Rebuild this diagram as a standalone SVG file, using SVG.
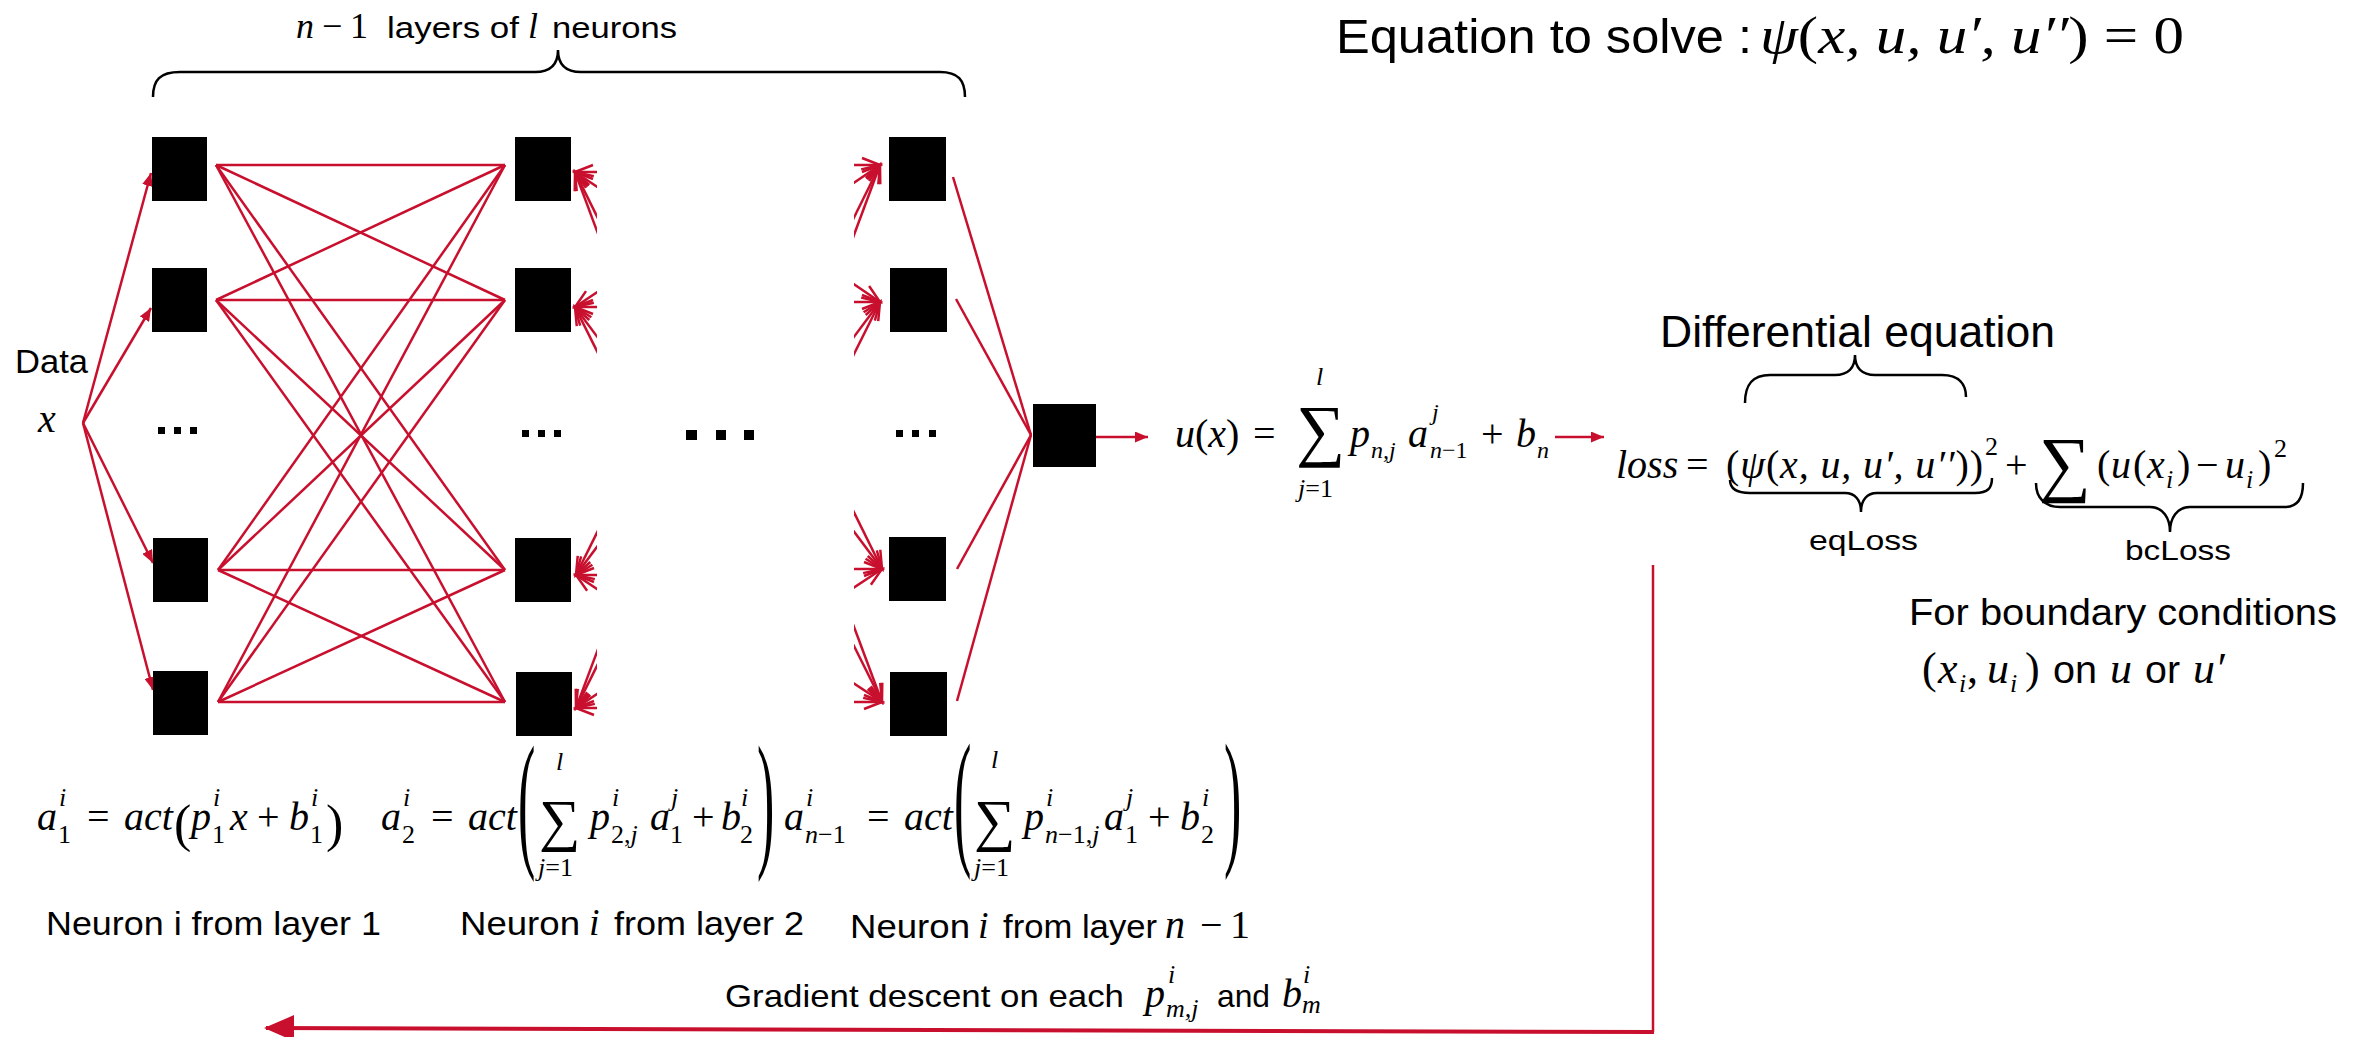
<svg xmlns="http://www.w3.org/2000/svg" width="2371" height="1037" viewBox="0 0 2371 1037">
<style>
.r{stroke:#c8102e;stroke-width:2.5;fill:none}
.rt{stroke:#c8102e;stroke-width:4;fill:none}
.k{stroke:#000;stroke-width:2.5;fill:none}
.nd{fill:#000}
.s{font-family:"Liberation Sans",Arial,sans-serif;fill:#000}
.m{font-family:"Liberation Serif","DejaVu Serif",serif;font-style:italic;fill:#000}
.u{font-style:normal}
</style>
<defs>
<marker id="ah" markerUnits="userSpaceOnUse" markerWidth="13" markerHeight="11" refX="13" refY="5.5" orient="auto"><path d="M0,0 L13,5.5 L0,11 z" fill="#c8102e"/></marker>
<marker id="big" markerUnits="userSpaceOnUse" markerWidth="30" markerHeight="26" refX="28" refY="13" orient="auto"><path d="M0,0 L30,13 L0,26 z" fill="#c8102e"/></marker>
<marker id="oa" markerUnits="userSpaceOnUse" markerWidth="24" markerHeight="20" refX="21" refY="10" orient="auto-start-reverse"><path d="M3,3 L21,10 L3,17" fill="none" stroke="#c8102e" stroke-width="2.5"/></marker>
<clipPath id="c2"><rect x="569" y="100" width="28" height="660"/></clipPath>
<clipPath id="c3"><rect x="854" y="100" width="32" height="660"/></clipPath>
</defs>
<rect width="2371" height="1037" fill="#fff"/>

<g id="connectors">
<g id="inputs" class="r">
<line x1="83" y1="423" x2="151" y2="173" marker-end="url(#ah)"/>
<line x1="83" y1="423" x2="151" y2="308" marker-end="url(#ah)"/>
<line x1="83" y1="423" x2="153" y2="563" marker-end="url(#ah)"/>
<line x1="83" y1="423" x2="153" y2="690" marker-end="url(#ah)"/>
</g>
<g id="l1-l2" class="r">
<line x1="216" y1="165" x2="505" y2="165"/><line x1="216" y1="165" x2="505" y2="300"/><line x1="216" y1="165" x2="505" y2="570"/><line x1="216" y1="165" x2="505" y2="702"/>
<line x1="216" y1="300" x2="505" y2="165"/><line x1="216" y1="300" x2="505" y2="300"/><line x1="216" y1="300" x2="505" y2="570"/><line x1="216" y1="300" x2="505" y2="702"/>
<line x1="218" y1="570" x2="505" y2="165"/><line x1="218" y1="570" x2="505" y2="300"/><line x1="218" y1="570" x2="505" y2="570"/><line x1="218" y1="570" x2="505" y2="702"/>
<line x1="218" y1="702" x2="505" y2="165"/><line x1="218" y1="702" x2="505" y2="300"/><line x1="218" y1="702" x2="505" y2="570"/><line x1="218" y1="702" x2="505" y2="702"/>
</g>
<g id="l2-out-fragments" class="r" clip-path="url(#c2)">
<line x1="575" y1="172" x2="775" y2="172" marker-start="url(#oa)"/><line x1="575" y1="172" x2="775" y2="307" marker-start="url(#oa)"/><line x1="575" y1="172" x2="775" y2="575" marker-start="url(#oa)"/><line x1="575" y1="172" x2="775" y2="708" marker-start="url(#oa)"/>
<line x1="575" y1="307" x2="775" y2="172" marker-start="url(#oa)"/><line x1="575" y1="307" x2="775" y2="307" marker-start="url(#oa)"/><line x1="575" y1="307" x2="775" y2="575" marker-start="url(#oa)"/><line x1="575" y1="307" x2="775" y2="708" marker-start="url(#oa)"/>
<line x1="576" y1="575" x2="776" y2="172" marker-start="url(#oa)"/><line x1="576" y1="575" x2="776" y2="307" marker-start="url(#oa)"/><line x1="576" y1="575" x2="776" y2="575" marker-start="url(#oa)"/><line x1="576" y1="575" x2="776" y2="708" marker-start="url(#oa)"/>
<line x1="576" y1="708" x2="776" y2="172" marker-start="url(#oa)"/><line x1="576" y1="708" x2="776" y2="307" marker-start="url(#oa)"/><line x1="576" y1="708" x2="776" y2="575" marker-start="url(#oa)"/><line x1="576" y1="708" x2="776" y2="708" marker-start="url(#oa)"/>
</g>
<g id="in-l3-fragments" class="r" clip-path="url(#c3)">
<line x1="680" y1="165" x2="880" y2="165" marker-end="url(#oa)"/><line x1="680" y1="302" x2="880" y2="165" marker-end="url(#oa)"/><line x1="680" y1="569" x2="880" y2="165" marker-end="url(#oa)"/><line x1="680" y1="702" x2="880" y2="165" marker-end="url(#oa)"/>
<line x1="680" y1="165" x2="880" y2="302" marker-end="url(#oa)"/><line x1="680" y1="302" x2="880" y2="302" marker-end="url(#oa)"/><line x1="680" y1="569" x2="880" y2="302" marker-end="url(#oa)"/><line x1="680" y1="702" x2="880" y2="302" marker-end="url(#oa)"/>
<line x1="682" y1="165" x2="882" y2="569" marker-end="url(#oa)"/><line x1="682" y1="302" x2="882" y2="569" marker-end="url(#oa)"/><line x1="682" y1="569" x2="882" y2="569" marker-end="url(#oa)"/><line x1="682" y1="702" x2="882" y2="569" marker-end="url(#oa)"/>
<line x1="682" y1="165" x2="882" y2="702" marker-end="url(#oa)"/><line x1="682" y1="302" x2="882" y2="702" marker-end="url(#oa)"/><line x1="682" y1="569" x2="882" y2="702" marker-end="url(#oa)"/><line x1="682" y1="702" x2="882" y2="702" marker-end="url(#oa)"/>
</g>
<g id="l3-out" class="r">
<line x1="953" y1="177" x2="1031" y2="435"/>
<line x1="956" y1="299" x2="1031" y2="435"/>
<line x1="957" y1="569" x2="1031" y2="435"/>
<line x1="957" y1="701" x2="1031" y2="435"/>
</g>
<line id="out-ux" class="r" x1="1096" y1="437" x2="1148" y2="437" marker-end="url(#ah)"/>
<line id="ux-loss" class="r" x1="1555" y1="437" x2="1604" y2="437" marker-end="url(#ah)"/>
<g id="gradient">
<line class="r" x1="1653" y1="565" x2="1653" y2="1032"/>
<line class="rt" x1="1654" y1="1032" x2="266" y2="1028" marker-end="url(#big)"/>
</g>
</g>

<g id="layer1">
<rect id="l1n1" class="nd" x="152" y="137" width="55" height="64"/>
<rect id="l1n2" class="nd" x="152" y="268" width="55" height="64"/>
<g id="l1dots" class="nd"><rect x="158" y="427" width="7" height="7"/><rect x="174" y="427" width="7" height="7"/><rect x="190" y="427" width="7" height="7"/></g>
<rect id="l1n3" class="nd" x="153" y="538" width="55" height="64"/>
<rect id="l1n4" class="nd" x="153" y="671" width="55" height="64"/>
</g>
<g id="layer2">
<rect id="l2n1" class="nd" x="515" y="137" width="56" height="64"/>
<rect id="l2n2" class="nd" x="515" y="268" width="56" height="64"/>
<g id="l2dots" class="nd"><rect x="522" y="430" width="7" height="7"/><rect x="538" y="430" width="7" height="7"/><rect x="554" y="430" width="7" height="7"/></g>
<rect id="l2n3" class="nd" x="515" y="538" width="56" height="64"/>
<rect id="l2n4" class="nd" x="516" y="672" width="56" height="64"/>
</g>
<g id="middots" class="nd"><rect x="686" y="430" width="11" height="10"/><rect x="716" y="430" width="10" height="10"/><rect x="744" y="430" width="10" height="10"/></g>
<g id="layer3">
<rect id="l3n1" class="nd" x="889" y="137" width="57" height="64"/>
<rect id="l3n2" class="nd" x="890" y="268" width="57" height="64"/>
<g id="l3dots" class="nd"><rect x="896" y="430" width="7" height="7"/><rect x="912" y="430" width="7" height="7"/><rect x="929" y="430" width="7" height="7"/></g>
<rect id="l3n3" class="nd" x="889" y="537" width="57" height="64"/>
<rect id="l3n4" class="nd" x="890" y="672" width="57" height="64"/>
</g>
<g id="output"><rect id="outn" class="nd" x="1033" y="404" width="63" height="63"/></g>

<g id="data">
<text class="s" x="15" y="373" font-size="34" textLength="73" lengthAdjust="spacingAndGlyphs">Data</text>
<text class="m" x="38" y="432" font-size="40">x</text>
</g>

<g id="top-label">
<path class="k" d="M153,97 C153,80 160,72 180,72 L535,72 C550,72 558,65 558,50 C558,65 566,72 581,72 L940,72 C958,72 965,80 965,97"/>
<text class="m" x="296" y="38" font-size="36">n</text>
<text class="m u" x="322" y="38" font-size="36">−</text>
<text class="m u" x="350" y="38" font-size="36">1</text>
<text class="s" x="387" y="38" font-size="30" textLength="132" lengthAdjust="spacingAndGlyphs">layers of</text>
<text class="m" x="528" y="38" font-size="36">l</text>
<text class="s" x="552" y="38" font-size="30" textLength="125" lengthAdjust="spacingAndGlyphs">neurons</text>
</g>

<g id="title">
<text class="s" x="1336" y="53" font-size="49" textLength="416" lengthAdjust="spacingAndGlyphs">Equation to solve :</text>
<text class="m" x="1760" y="53" font-size="52" textLength="424" lengthAdjust="spacingAndGlyphs">ψ<tspan class="u">(</tspan>x, u, u′, u′′<tspan class="u">) = 0</tspan></text>
</g>

<g id="ux-formula" class="m" font-size="40">
<text x="1175" y="447">u<tspan class="u">(</tspan>x<tspan class="u">)</tspan></text>
<text class="u" x="1253" y="447">=</text>
<text class="u" x="1296" y="453" font-size="69">∑</text>
<text x="1316" y="385" font-size="26">l</text>
<text x="1298" y="497" font-size="26">j<tspan class="u">=1</tspan></text>
<text x="1350" y="447">p</text>
<text x="1371" y="458" font-size="24">n,j</text>
<text x="1408" y="447">a</text>
<text x="1432" y="420" font-size="24">j</text>
<text x="1430" y="458" font-size="24">n<tspan class="u">−1</tspan></text>
<text class="u" x="1481" y="447">+</text>
<text x="1516" y="447">b</text>
<text x="1537" y="458" font-size="24">n</text>
</g>

<g id="loss-formula" class="m" font-size="40">
<text x="1616" y="478">loss</text>
<text class="u" x="1686" y="478">=</text>
<text x="1726" y="478" textLength="257" lengthAdjust="spacing"><tspan class="u">(</tspan>ψ<tspan class="u">(</tspan>x, u, u′, u′′<tspan class="u">))</tspan></text>
<text class="u" x="1985" y="455" font-size="26">2</text>
<text class="u" x="2005" y="478">+</text>
<text class="u" x="2039" y="488" font-size="73">∑</text>
<text class="u" x="2097" y="478">(</text>
<text x="2111" y="478">u</text>
<text class="u" x="2133" y="478">(</text>
<text x="2147" y="478">x</text>
<text x="2166" y="488" font-size="26">i</text>
<text class="u" x="2177" y="478">)</text>
<text class="u" x="2196" y="478">−</text>
<text x="2225" y="478">u</text>
<text x="2246" y="488" font-size="26">i</text>
<text class="u" x="2258" y="478">)</text>
<text class="u" x="2274" y="457" font-size="26">2</text>
</g>

<g id="diff-eq">
<path class="k" d="M1745,403 C1745,385 1752,375 1770,375 L1835,375 C1848,375 1855,368 1855,355 C1855,368 1862,375 1875,375 L1942,375 C1960,375 1966,385 1966,397"/>
<text class="s" x="1660" y="347" font-size="45" textLength="395" lengthAdjust="spacingAndGlyphs">Differential equation</text>
</g>
<g id="eqloss">
<path class="k" d="M1730,480 C1730,489 1737,493 1750,493 L1845,493 C1855,493 1861,500 1861,512 C1861,500 1867,493 1877,493 L1975,493 C1988,493 1992,488 1992,478"/>
<text class="s" x="1809" y="550" font-size="28" textLength="109" lengthAdjust="spacingAndGlyphs">eqLoss</text>
</g>
<g id="bcloss">
<path class="k" d="M2036,483 C2036,498 2045,507 2060,507 L2150,507 C2163,507 2170,518 2170,532 C2170,518 2177,507 2190,507 L2285,507 C2298,507 2303,498 2303,483"/>
<text class="s" x="2125" y="560" font-size="28" textLength="106" lengthAdjust="spacingAndGlyphs">bcLoss</text>
</g>
<g id="boundary">
<text class="s" x="1909" y="625" font-size="36" textLength="428" lengthAdjust="spacingAndGlyphs">For boundary conditions</text>
<text class="m u" x="1922" y="683" font-size="44">(</text>
<text class="m" x="1938" y="683" font-size="44">x</text>
<text class="m" x="1959" y="692" font-size="26">i</text>
<text class="m u" x="1967" y="683" font-size="44">,</text>
<text class="m" x="1987" y="683" font-size="44">u</text>
<text class="m" x="2010" y="692" font-size="26">i</text>
<text class="m u" x="2025" y="683" font-size="44">)</text>
<text class="s" x="2053" y="683" font-size="38" textLength="44" lengthAdjust="spacingAndGlyphs">on</text>
<text class="m" x="2110" y="683" font-size="44">u</text>
<text class="s" x="2145" y="683" font-size="38" textLength="35" lengthAdjust="spacingAndGlyphs">or</text>
<text class="m" x="2193" y="683" font-size="44">u′</text>
</g>

<g id="formula1" class="m" font-size="40">
<text x="37" y="830">a</text>
<text x="59" y="806" font-size="26">i</text>
<text class="u" x="58" y="843" font-size="26">1</text>
<text class="u" x="87" y="830">=</text>
<text x="124" y="830">act</text>
<text class="u" x="174" y="841" font-size="52">(</text>
<text x="191" y="830">p</text>
<text x="213" y="806" font-size="26">i</text>
<text class="u" x="212" y="843" font-size="26">1</text>
<text x="230" y="830">x</text>
<text class="u" x="257" y="830">+</text>
<text x="289" y="830">b</text>
<text x="311" y="806" font-size="26">i</text>
<text class="u" x="310" y="843" font-size="26">1</text>
<text class="u" x="326" y="841" font-size="52">)</text>
</g>

<g id="formula2" class="m" font-size="40">
<text x="381" y="830">a</text>
<text x="403" y="806" font-size="26">i</text>
<text class="u" x="402" y="843" font-size="26">2</text>
<text class="u" x="431" y="830">=</text>
<text x="468" y="830">act</text>
<text class="u" font-size="52" transform="translate(518,850) scale(1,2.9)">(</text>
<text x="556" y="770" font-size="26">l</text>
<text class="u" x="539" y="840" font-size="58">∑</text>
<text x="538" y="876" font-size="26">j<tspan class="u">=1</tspan></text>
<text x="590" y="830">p</text>
<text x="612" y="806" font-size="26">i</text>
<text x="611" y="843" font-size="26"><tspan class="u">2,</tspan>j</text>
<text x="650" y="830">a</text>
<text x="671" y="806" font-size="26">j</text>
<text class="u" x="670" y="843" font-size="26">1</text>
<text class="u" x="692" y="830">+</text>
<text x="721" y="830">b</text>
<text x="741" y="806" font-size="26">i</text>
<text class="u" x="740" y="843" font-size="26">2</text>
<text class="u" font-size="52" transform="translate(757,850) scale(1,2.9)">)</text>
</g>

<g id="formula3" class="m" font-size="40">
<text x="784" y="830">a</text>
<text x="806" y="806" font-size="26">i</text>
<text x="805" y="843" font-size="26">n<tspan class="u">−1</tspan></text>
<text class="u" x="867" y="830">=</text>
<text x="904" y="830">act</text>
<text class="u" font-size="52" transform="translate(954,848) scale(1,2.9)">(</text>
<text x="991" y="768" font-size="26">l</text>
<text class="u" x="974" y="840" font-size="58">∑</text>
<text x="974" y="876" font-size="26">j<tspan class="u">=1</tspan></text>
<text x="1024" y="830">p</text>
<text x="1046" y="806" font-size="26">i</text>
<text x="1045" y="843" font-size="26">n<tspan class="u">−1,</tspan>j</text>
<text x="1104" y="830">a</text>
<text x="1126" y="806" font-size="26">j</text>
<text class="u" x="1125" y="843" font-size="26">1</text>
<text class="u" x="1148" y="830">+</text>
<text x="1180" y="830">b</text>
<text x="1202" y="806" font-size="26">i</text>
<text class="u" x="1201" y="843" font-size="26">2</text>
<text class="u" font-size="52" transform="translate(1224,848) scale(1,2.9)">)</text>
</g>

<g id="labels">
<text class="s" x="46" y="935" font-size="34" textLength="335" lengthAdjust="spacingAndGlyphs">Neuron i from layer 1</text>
<text class="s" x="460" y="935" font-size="34" textLength="120" lengthAdjust="spacingAndGlyphs">Neuron</text>
<text class="m" x="589" y="935" font-size="38">i</text>
<text class="s" x="614" y="935" font-size="34" textLength="190" lengthAdjust="spacingAndGlyphs">from layer 2</text>
<text class="s" x="850" y="938" font-size="34" textLength="120" lengthAdjust="spacingAndGlyphs">Neuron</text>
<text class="m" x="978" y="938" font-size="38">i</text>
<text class="s" x="1003" y="938" font-size="34" textLength="154" lengthAdjust="spacingAndGlyphs">from layer</text>
<text class="m" x="1165" y="938" font-size="40">n</text>
<text class="m u" x="1200" y="938" font-size="40">−</text>
<text class="m u" x="1230" y="938" font-size="40">1</text>
</g>

<g id="gradient-label">
<text class="s" x="725" y="1007" font-size="32" textLength="399" lengthAdjust="spacingAndGlyphs">Gradient descent on each</text>
<text class="m" x="1145" y="1007" font-size="40">p</text>
<text class="m" x="1168" y="983" font-size="26">i</text>
<text class="m" x="1166" y="1017" font-size="26">m,j</text>
<text class="s" x="1217" y="1007" font-size="32" textLength="53" lengthAdjust="spacingAndGlyphs">and</text>
<text class="m" x="1282" y="1007" font-size="40">b</text>
<text class="m" x="1303" y="983" font-size="26">i</text>
<text class="m" x="1302" y="1013" font-size="26">m</text>
</g>
</svg>
